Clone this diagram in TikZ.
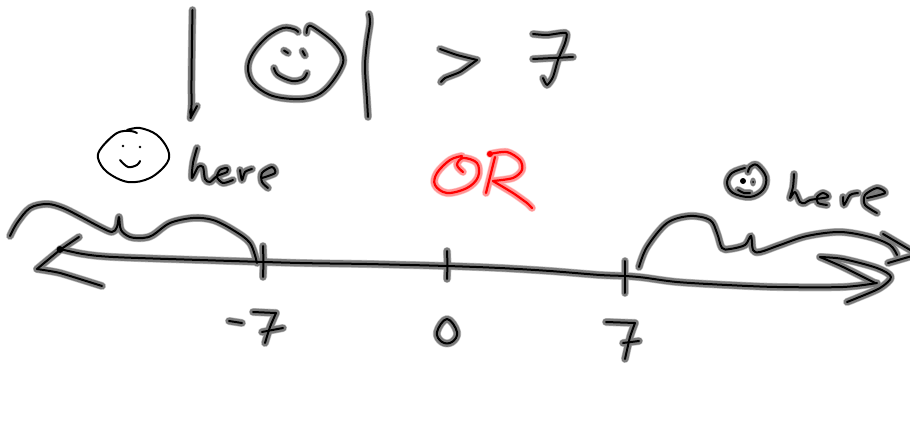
\documentclass[tikz,border=0pt]{standalone}
\newcommand\inkstrokes{%
  % top: |face| > 7
  \draw[ink] plot[smooth,tension=.55] coordinates {(192.5,10)(192,40)(191.5,80)(191.5,105)(191,112)(190.5,118)};
  \draw[ink] (190.5,118) -- (197,106);
  \draw[ink] plot[smooth,tension=.6] coordinates {(298,32)(295,29.5)(283,28)(267,37)(253,53)(248,68)(253,83)(270,95)(293,99)(313,97)(327,88)(340,70)(343,57)(333,42)(313,27)(308,27)(306.5,33)};
  \draw[ink] (284,50.5) -- (288,53);
  \draw[ink] (302.5,51) -- (305,55.5);
  \draw[ink] plot[smooth,tension=.6] coordinates {(274,68)(278,75)(292,81)(303,79)(307,73)};
  \draw[ink] plot[smooth,tension=.55] coordinates {(369,14)(370,23)(367,43)(365,67)(367,100)(368,117)};
  \draw[ink] plot[smooth,tension=.3] coordinates {(440,49)(457,55)(477,60)};
  \draw[ink] plot[smooth,tension=.3] coordinates {(477,60)(460,72)(445,78)(441,82)};
  \draw[ink] plot[smooth,tension=.4] coordinates {(533,34)(547,35)(566,33)(565,43)(558,60)(553,77)(547,85)(543,78)};
  \draw[ink] (533,59) -- (573,57);
  % left here
  \draw[ink] plot[smooth,tension=.5] coordinates {(197,148)(193,163)(192,178)(198,167)(203,167)(205,179)(210,182)(217,176)(227,172)(227,168)(220,170)(217,177)(223,183)(233,180)};
  \draw[ink] plot[smooth,tension=.5] coordinates {(240,170)(242,180)(245,172)(252,169)};
  \draw[ink] plot[smooth,tension=.5] coordinates {(262,178)(275,173)(272,167)(262,173)(262,182)(268,188)};
  % left brace
  \draw[ink] plot[smooth,tension=.55] coordinates {(10,236)(17,223)(30,208)(47,204)(63,208)(83,218)(100,227)(112,232)(117,227)(119,217)(121,230)(130,237)(143,238)(153,235)(170,223)(193,218)(213,220)(233,230)(250,243)(257,263)};
  % number line
  \draw[ink] plot[smooth,tension=.5] coordinates {(60,249)(83,254)(113,257)(200,260)(300,263)(367,264)(447,266)(500,268)(550,271)(600,275)(625,276)(643,277.5)(677,282)(727,285)(777,287)(843,287)(877,283)};
  \draw[ink] plot[smooth,tension=.3] coordinates {(79,237)(60,250)(37,269)};
  \draw[ink] plot[smooth,tension=.3] coordinates {(37,269)(60,273)(102,286)};
  % ticks
  \draw[ink] (263,246) -- (263.5,262) -- (263,277);
  \draw[ink] (447,251) -- (447.5,265) -- (447,279);
  \draw[ink] (625,261) -- (625,293);
  % -7
  \draw[ink] (229,321) -- (242,323);
  \draw[ink] plot[smooth,tension=.3] coordinates {(253,312)(276,313)};
  \draw[ink] plot[smooth,tension=.3] coordinates {(276,313)(270,327)(265,343)};
  \draw[ink] (262,332) -- (283,328);
  % 0
  \draw[ink] plot[smooth cycle,tension=.7] coordinates {(447,319)(437,332)(442,342)(452,342)(457,332)};
  % 7
  \draw[ink] plot[smooth,tension=.3] coordinates {(606,322)(635,323)};
  \draw[ink] plot[smooth,tension=.3] coordinates {(635,323)(630,337)(625,359)};
  \draw[ink] (623,343) -- (639,341);
  % right brace
  \draw[ink] plot[smooth,tension=.55] coordinates {(639,267)(647,247)(667,223)(690,216)(710,220)(717,233)(722,248)(730,249)(745,245)(751,236)(753,250)(760,252)(780,245)(807,236)(840,232)(870,237)(890,245)(897,255)};
  \draw[ink] (883,234) -- (912,251);
  \draw[ink] (888,263) -- (912,256);
  % right arrowhead
  \draw[ink] plot[smooth,tension=.5] coordinates {(820,257)(843,259)(877,268)(891,277)(880,288)(857,298)(847,302)};
  \draw[ink] plot[smooth,tension=.4] coordinates {(820,257)(843,267)(875,283)};
  % right face
  \draw[ink] plot[smooth,tension=.6] coordinates {(745,168)(732,173)(727,183)(733,193)(750,197)(763,190)(766,177)(757,165)(750,167)(748,172)};
  \draw[ink] plot[smooth,tension=.5] coordinates {(738,190)(744,193)(750,193)};
  % right here
  \draw[ink] plot[smooth,tension=.5] coordinates {(794,174)(793,187)(790,198)(795,192)(800,202)(805,203)(810,200)(828,197)(823,193)(817,197)(818,203)(827,205)};
  \draw[ink] plot[smooth,tension=.5] coordinates {(843,197)(844,205)(850,195)(858,193)};
  \draw[ink] plot[smooth,tension=.5] coordinates {(867,198)(885,193)(877,188)(865,195)(865,205)(877,213)};
}
\newcommand\redstrokes{%
  \draw[ink] plot[smooth,tension=.6] coordinates {(463,172)(457,165)(463,158)(477,163)(478,177)(467,188)(447,193)(435,185)(437,173)(450,160)(462,156)};
  \draw[ink] plot[smooth,tension=.5] coordinates {(495,157)(490,177)(486,193)};
  \draw[ink] plot[smooth,tension=.5] coordinates {(490,154)(507,152)(520,160)(522,170)(513,178)(493,181)};
  \draw[ink] plot[smooth,tension=.3] coordinates {(493,181)(513,193)(527,203)(532,208)};
}
\tikzset{
  halowide/.style={line width=8pt,line cap=round,line join=round,black!25},
  halo/.style={line width=6.8pt,line cap=round,line join=round,black!52},
  core/.style={line width=2pt,line cap=round,line join=round,black},
  thin ink/.style={line width=2pt,line cap=round,line join=round,black},
  redwide/.style={line width=8pt,line cap=round,line join=round,red!20},
  redhalo/.style={line width=6.8pt,line cap=round,line join=round,red!42},
  redcore/.style={line width=2.2pt,line cap=round,line join=round,red},
}
\begin{document}
\begin{tikzpicture}[x=1pt,y=-1pt]
  \useasboundingbox (0,0) rectangle (910,425);
  \fill[white] (0,0) rectangle (910,425);
  \clip (0,0) rectangle (910,425);
  \begin{scope}[ink/.style={halowide}]\inkstrokes\end{scope}
  \begin{scope}[ink/.style={halo}]\inkstrokes\end{scope}
  \begin{scope}[ink/.style={redwide}]\redstrokes\end{scope}
  \begin{scope}[ink/.style={redhalo}]\redstrokes\end{scope}
  \begin{scope}[ink/.style={core}]\inkstrokes\end{scope}
  \begin{scope}[ink/.style={redcore}]\redstrokes\end{scope}
  \fill[black!52] (753,182) ellipse (3pt and 4.5pt);
  \fill[red] (490,154) circle (3pt);
  \fill[black] (60,249.5) circle (3.4pt);
  \fill[black] (743,181) circle (3pt);
  \fill[black] (753,182) circle (1pt);
  \fill[black] (191,112) ellipse (1.8pt and 4pt);
  % small thin face
  \draw[thin ink] plot[smooth,tension=.6] coordinates {(137,133)(130,131)(117,133)(102,147)(98,158)(107,172)(128,182)(150,178)(167,163)(168,150)(157,135)(140,128)(127,130)};
  \fill[black] (123,146) circle (1.3pt);
  \fill[black] (140,147) circle (1.3pt);
  \draw[thin ink] plot[smooth,tension=.6] coordinates {(120,160)(128,167)(137,165)(140,161)};
\end{tikzpicture}
\end{document}
